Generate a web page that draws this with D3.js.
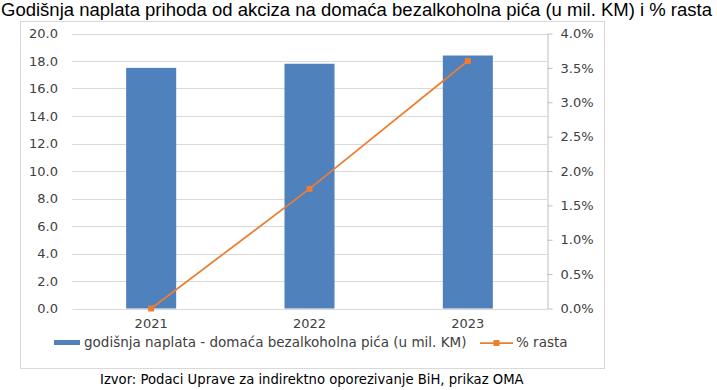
<html>
<head>
<meta charset="utf-8">
<script src="https://d3js.org/d3.v7.min.js"></script>
<style>
 body { margin: 0; background: #fff; }
 text { font-family: "DejaVu Sans", Verdana, sans-serif; }
</style>
</head>
<body>
<script>
// chart data
var years = ["2021", "2022", "2023"];
var naplata = [17.5, 17.8, 18.4];      // u mil. KM
var rast = [0.0, 1.74, 3.6];           // % rasta
var leftTicks = [0, 2, 4, 6, 8, 10, 12, 14, 16, 18, 20];
var rightTicks = [0, 0.5, 1, 1.5, 2, 2.5, 3, 3.5, 4];

var title = "Godišnja naplata prihoda od akciza na domaća bezalkoholna pića (u mil. KM) i % rasta";
var source = "Izvor: Podaci Uprave za indirektno oporezivanje BiH, prikaz OMA";
var legendBar = "godišnja naplata - domaća bezalkoholna pića (u mil. KM)";
var legendLine = "% rasta";

var W = 717, H = 390;
var svg = d3.select("body").append("svg").attr("width", W).attr("height", H);

// title
svg.append("text")
  .attr("x", 1).attr("y", 16)
  .style("font-family", "'Liberation Sans', Arial, sans-serif")
  .style("font-size", "17.5px")
  .attr("textLength", 711).attr("lengthAdjust", "spacingAndGlyphs")
  .attr("fill", "#000")
  .text(title);

// chart frame
svg.append("rect")
  .attr("x", 20.5).attr("y", 21.5)
  .attr("width", 584).attr("height", 347)
  .attr("fill", "#fff").attr("stroke", "#d9d9d9");

var plot = {left: 72, right: 547, top: 33.5, bottom: 308.5};

var x = d3.scaleBand().domain(years).range([plot.left, plot.right]).paddingInner(0.684).paddingOuter(0.342);
var y = d3.scaleLinear().domain([0, 20]).range([plot.bottom, plot.top]);
var y2 = d3.scaleLinear().domain([0, 4]).range([plot.bottom, plot.top]);

// gridlines
svg.append("g").selectAll("line")
  .data(leftTicks.slice(1))
  .enter().append("line")
  .attr("x1", plot.left).attr("x2", plot.right)
  .attr("y1", function(d) { return Math.round(y(d)) + 0.5; })
  .attr("y2", function(d) { return Math.round(y(d)) + 0.5; })
  .attr("stroke", "#d9d9d9");

// left axis labels
var axL = svg.append("g").attr("transform", "translate(" + plot.left + ",0)")
  .call(d3.axisLeft(y).tickValues(leftTicks).tickFormat(d3.format(".1f")).tickSize(0).tickPadding(14));
axL.select(".domain").remove();
axL.selectAll("text").style("font-size", "13px").style("font-family", "'DejaVu Sans', Verdana, sans-serif").attr("fill", "#404040");

// bars
svg.append("g").selectAll("rect")
  .data(naplata)
  .enter().append("rect")
  .attr("x", function(d, i) { return x(years[i]); })
  .attr("width", x.bandwidth())
  .attr("y", function(d) { return y(d); })
  .attr("height", function(d) { return plot.bottom - y(d); })
  .attr("fill", "#4f81bd");

// x axis
var axX = svg.append("g").attr("transform", "translate(0," + (plot.bottom + 0.5) + ")")
  .call(d3.axisBottom(x).tickSize(0).tickPadding(10));
axX.select(".domain").attr("stroke", "#d9d9d9");
axX.selectAll("text").style("font-size", "13px").style("font-family", "'DejaVu Sans', Verdana, sans-serif").attr("fill", "#404040");

// right axis
var axR = svg.append("g").attr("transform", "translate(" + (plot.right + 0.5) + ",0)")
  .call(d3.axisRight(y2).tickValues(rightTicks).tickFormat(function(d) { return d3.format(".1f")(d) + "%"; }).tickSizeInner(5).tickSizeOuter(0).tickPadding(8));
axR.select(".domain").attr("stroke", "#bfbfbf");
axR.selectAll("line").attr("stroke", "#bfbfbf");
axR.selectAll("text").style("font-size", "13px").style("font-family", "'DejaVu Sans', Verdana, sans-serif").attr("fill", "#404040");

// line
var pts = rast.map(function(d, i) { return [x(years[i]) + x.bandwidth() / 2, y2(d)]; });
svg.append("path")
  .attr("d", d3.line()(pts))
  .attr("fill", "none").attr("stroke", "#ed7d31").attr("stroke-width", 1.75);
svg.append("g").selectAll("rect")
  .data(pts)
  .enter().append("rect")
  .attr("x", function(d) { return d[0] - 3; })
  .attr("y", function(d) { return d[1] - 3; })
  .attr("width", 6).attr("height", 6)
  .attr("fill", "#ed7d31");

// legend
var lg = svg.append("g");
lg.append("rect").attr("x", 54).attr("y", 340).attr("width", 26).attr("height", 5).attr("fill", "#4f81bd");
lg.append("text").attr("x", 84).attr("y", 347).style("font-size", "13.5px").attr("fill", "#404040").text(legendBar);
lg.append("line").attr("x1", 480).attr("x2", 513).attr("y1", 343).attr("y2", 343).attr("stroke", "#ed7d31").attr("stroke-width", 1.75);
lg.append("rect").attr("x", 493.5).attr("y", 340).attr("width", 6).attr("height", 6).attr("fill", "#ed7d31");
lg.append("text").attr("x", 516).attr("y", 347).style("font-size", "13.5px").attr("fill", "#404040").text(legendLine);

// source
svg.append("text")
  .attr("x", 100).attr("y", 384)
  .style("font-size", "13.2px")
  .attr("fill", "#000")
  .text(source);
</script>
</body>
</html>
